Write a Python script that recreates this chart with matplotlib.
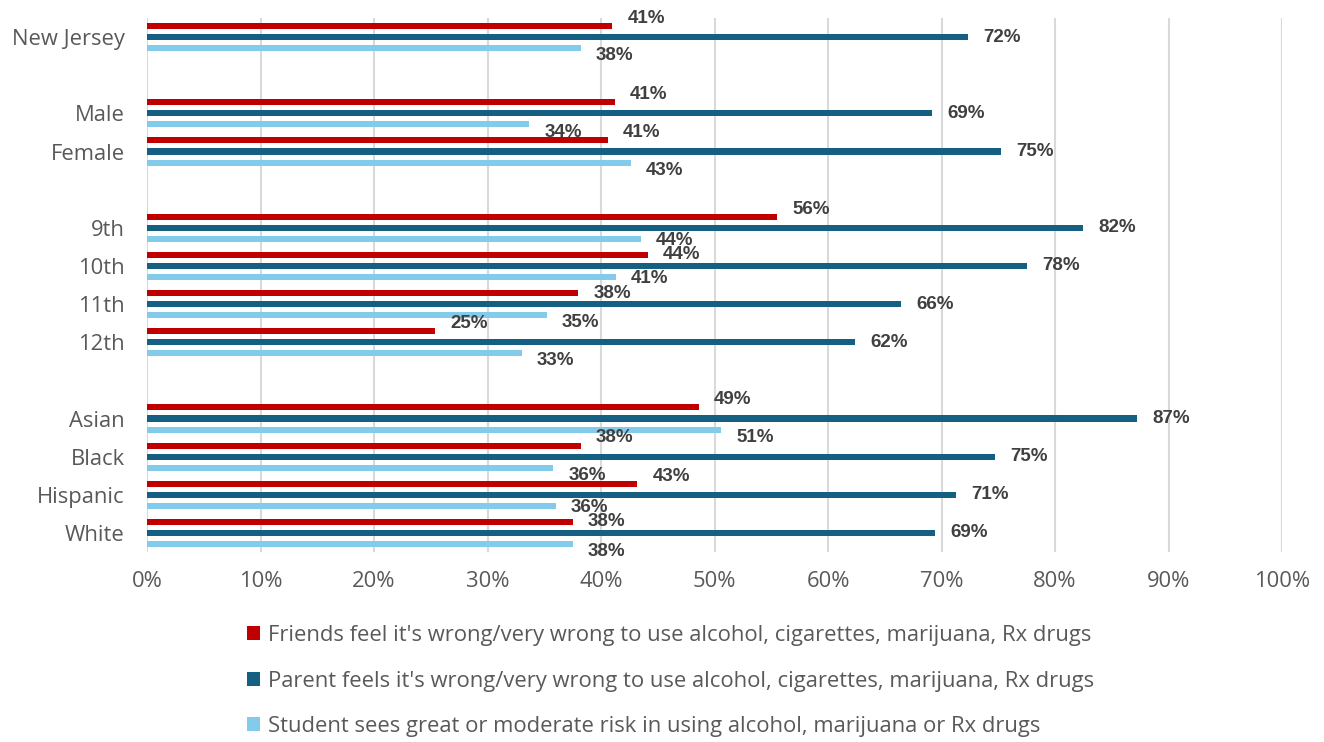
import matplotlib
matplotlib.use("Agg")
import matplotlib.pyplot as plt
from matplotlib.patches import Patch

plt.rcParams['font.family'] = ['Open Sans', 'DejaVu Sans']

categories = ["New Jersey", "Male", "Female", "9th", "10th", "11th", "12th",
              "Asian", "Black", "Hispanic", "White"]
# slot index of each category (blank slots separate the groups)
slots = [0, 2, 3, 5, 6, 7, 8, 10, 11, 12, 13]

friends = [41.0, 41.2, 40.6, 55.5, 44.1, 38.0, 25.4, 48.6, 38.2, 43.2, 37.5]
parent = [72.3, 69.2, 75.2, 82.5, 77.5, 66.4, 62.4, 87.2, 74.7, 71.3, 69.4]
student = [38.2, 33.7, 42.6, 43.5, 41.3, 35.2, 33.0, 50.6, 35.8, 36.0, 37.5]

series_names = [
    "Friends feel it's wrong/very wrong to use alcohol, cigarettes, marijuana, Rx drugs",
    "Parent feels it's wrong/very wrong to use alcohol, cigarettes, marijuana, Rx drugs",
    "Student sees great or moderate risk in using alcohol, marijuana or Rx drugs",
]
colors = ["#C00000", "#156082", "#83CBEB"]

fig = plt.figure(figsize=(13.24, 7.42), dpi=100)
ax = fig.add_axes([147 / 1324, 1 - 552 / 742, (1282 - 147) / 1324, (552 - 18) / 742])

offsets = [-0.29, 0.0, 0.29]
bar_h = 0.16
series = [friends, parent, student]
for vals, off, col in zip(series, offsets, colors):
    ax.barh([s + off for s in slots], vals, height=bar_h, color=col, zorder=3)

# label shifts like Excel: friends up, student down, unless neighbours would clash
n = len(slots)
shift = {0: [5.5] * n, 1: [0] * n, 2: [-5.5] * n}
for i in range(n - 1):
    if slots[i + 1] == slots[i] + 1 and abs(student[i] - friends[i + 1]) < 5:
        shift[2][i] = -1
        shift[0][i + 1] = 0

for k, (vals, off) in enumerate(zip(series, offsets)):
    for i, v in enumerate(vals):
        ax.annotate(f"{round(v)}%", (v, slots[i] + off), xytext=(11, shift[k][i]),
                    textcoords="offset points", ha="left", va="center",
                    fontsize=13.5, fontweight="bold", color="#404040",
                    family=["Liberation Sans", "DejaVu Sans"])

ax.set_xlim(0, 100)
ax.set_ylim(13.5, -0.5)
ax.set_xticks(range(0, 101, 10))
ax.set_xticklabels([f"{t}%" for t in range(0, 101, 10)])
ax.set_yticks(slots)
ax.set_yticklabels(categories)
ax.tick_params(axis="both", length=0, labelsize=15.8, colors="#595959")
ax.tick_params(axis="x", pad=14)
ax.tick_params(axis="y", pad=16)
ax.xaxis.grid(True, color="#D9D9D9", linewidth=1.5, zorder=0)
for s in ax.spines.values():
    s.set_visible(False)

handles = [Patch(facecolor=c, edgecolor="none") for c in colors]
fig.legend(handles, series_names, loc="upper left", bbox_to_anchor=(247 / 1324, 1 - 625 / 742),
           frameon=False, fontsize=15.8, labelcolor="#595959", handlelength=0.6,
           handleheight=0.6, handletextpad=0.35, labelspacing=1.12,
           borderpad=0, borderaxespad=0)

fig.savefig("out.png", dpi=100)
